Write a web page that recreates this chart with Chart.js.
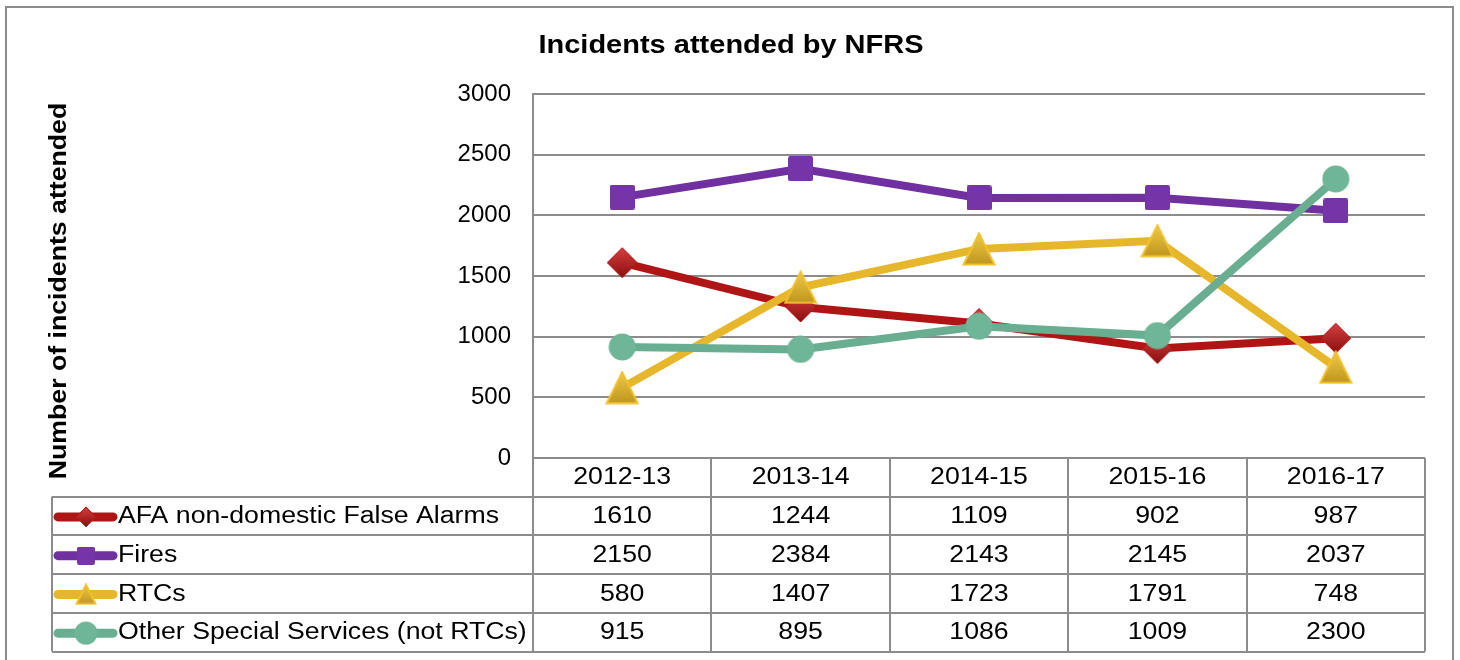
<!DOCTYPE html>
<html>
<head>
<meta charset="utf-8">
<script src="https://cdn.jsdelivr.net/npm/chart.js@4"></script>
<style>
  html, body { margin: 0; padding: 0; background: #fff; }
  canvas { display: block; }
</style>
</head>
<body>
<canvas id="incidentsChart" width="1460" height="660"></canvas>
<script>
const years = ['2012-13', '2013-14', '2014-15', '2015-16', '2016-17'];
const afaFalseAlarms = [1610, 1244, 1109, 902, 987];
const fires = [2150, 2384, 2143, 2145, 2037];
const rtcs = [580, 1407, 1723, 1791, 748];
const otherSpecial = [915, 895, 1086, 1009, 2300];
const seriesNames = ['AFA non-domestic False Alarms', 'Fires', 'RTCs', 'Other Special Services (not RTCs)'];
const yMin = 0, yMax = 3000, yStep = 500;

const FONT = '"Liberation Sans", Arial, sans-serif';
const GRID = '#8c8c8c';
// the source picture is a bit wider than tall, text looks stretched
const STRETCH = 1.16;

function makeMarker(shape, size) {
    const c = document.createElement('canvas');
    c.width = size;
    c.height = size;
    const g = c.getContext('2d');
    const s = size;
    if (shape === 'diamond') {
        const grad = g.createLinearGradient(0, 0, 0, s);
        grad.addColorStop(0, '#d94040');
        grad.addColorStop(1, '#880d0d');
        g.beginPath();
        g.moveTo(s / 2, 1); g.lineTo(s - 1, s / 2); g.lineTo(s / 2, s - 1); g.lineTo(1, s / 2);
        g.closePath();
        g.fillStyle = grad;
        g.fill();
        g.strokeStyle = '#b51717';
        g.lineWidth = 1;
        g.stroke();
    } else if (shape === 'square') {
        g.fillStyle = '#7535a8';
        g.beginPath();
        g.roundRect(0, 0, s, s, 2);
        g.fill();
    } else if (shape === 'triangle') {
        const grad = g.createLinearGradient(0, 0, 0, s);
        grad.addColorStop(0, '#f0cb4c');
        grad.addColorStop(1, '#bd941b');
        g.beginPath();
        g.moveTo(s / 2, 1.5); g.lineTo(s - 1.5, s - 1.5); g.lineTo(1.5, s - 1.5);
        g.closePath();
        g.fillStyle = grad;
        g.fill();
        g.strokeStyle = '#f2c12e';
        g.lineWidth = 2;
        g.stroke();
    } else {
        g.beginPath();
        g.arc(s / 2, s / 2, s / 2 - 0.5, 0, Math.PI * 2);
        g.fillStyle = '#6fb598';
        g.fill();
    }
    return c;
}

const lineColors = ['#b01515', '#7030a0', '#e6b72a', '#69ae91'];
const shapes = ['diamond', 'square', 'triangle', 'circle'];
const pointSizes = [32, 25, 34, 28];
const keySizes = [22, 18, 22, 24];
const pointMarkers = shapes.map((s, i) => makeMarker(s, pointSizes[i]));
const keyMarkers = shapes.map((s, i) => makeMarker(s, keySizes[i]));
const seriesValues = [afaFalseAlarms, fires, rtcs, otherSpecial];

function stretchedText(ctx, text, x, y, align) {
    ctx.save();
    ctx.translate(x, y);
    ctx.scale(STRETCH, 1);
    ctx.textAlign = align;
    ctx.fillText(text, 0, 0);
    ctx.restore();
}

const tablePlugin = {
    id: 'dataTable',
    beforeDraw(chart) {
        const ctx = chart.ctx;
        ctx.save();
        ctx.strokeStyle = GRID;
        ctx.lineWidth = 2;
        ctx.strokeRect(6, 7, 1447, 660);
        ctx.restore();
    },
    afterDraw(chart) {
        const ctx = chart.ctx;
        const area = chart.chartArea;
        const xs = chart.scales.x;
        const half = (xs.getPixelForValue(1) - xs.getPixelForValue(0)) / 2;
        const tableLeft = 52;
        const headTop = area.bottom;
        const rowTop = area.bottom + 38.5;
        const rowH = 38.75;
        const nRows = seriesValues.length;
        const tableBottom = rowTop + rowH * nRows;

        ctx.save();
        ctx.fillStyle = '#000';
        ctx.textBaseline = 'middle';

        // title
        ctx.font = 'bold 25px ' + FONT;
        stretchedText(ctx, 'Incidents attended by NFRS', 731, 46, 'center');

        // y axis title
        ctx.save();
        ctx.translate(60, 291);
        ctx.rotate(-Math.PI / 2);
        ctx.font = 'bold 23px ' + FONT;
        stretchedText(ctx, 'Number of incidents attended', 0, 0, 'center');
        ctx.restore();

        // grid of the table
        ctx.strokeStyle = GRID;
        ctx.lineWidth = 2;
        ctx.beginPath();
        for (let r = 0; r <= nRows; r++) {
            const y = Math.round(rowTop + r * rowH);
            ctx.moveTo(tableLeft, y);
            ctx.lineTo(area.right, y);
        }
        ctx.moveTo(tableLeft, rowTop);
        ctx.lineTo(tableLeft, tableBottom);
        ctx.moveTo(area.left, area.bottom);
        ctx.lineTo(area.left, tableBottom);
        years.forEach((_, i) => {
            const x = Math.round(xs.getPixelForValue(i) + half);
            ctx.moveTo(x, headTop);
            ctx.lineTo(x, tableBottom);
        });
        ctx.stroke();

        // header row
        ctx.font = '23px ' + FONT;
        years.forEach((yr, i) => {
            stretchedText(ctx, yr, xs.getPixelForValue(i), headTop + 20, 'center');
        });

        // series rows
        seriesValues.forEach((vals, r) => {
            const cy = rowTop + r * rowH + rowH / 2 + 1;
            ctx.strokeStyle = lineColors[r];
            ctx.lineWidth = 9;
            ctx.lineCap = 'round';
            ctx.beginPath();
            ctx.moveTo(58, cy);
            ctx.lineTo(113, cy);
            ctx.stroke();
            const m = keyMarkers[r];
            ctx.drawImage(m, 86 - m.width / 2, cy - m.height / 2);

            stretchedText(ctx, seriesNames[r], 118, cy, 'left');
            vals.forEach((v, i) => {
                stretchedText(ctx, String(v), xs.getPixelForValue(i), cy, 'center');
            });
        });
        ctx.restore();
    }
};

const ctx = document.getElementById('incidentsChart').getContext('2d');
const drawOrder = [4, 3, 2, 1];
new Chart(ctx, {
    type: 'line',
    data: {
        labels: years,
        datasets: seriesValues.map((vals, i) => ({
            label: seriesNames[i],
            data: vals,
            borderColor: lineColors[i],
            backgroundColor: lineColors[i],
            borderWidth: 8,
            pointStyle: pointMarkers[i],
            pointRadius: pointSizes[i] / 2,
            tension: 0,
            fill: false,
            order: drawOrder[i]
        }))
    },
    options: {
        responsive: false,
        animation: false,
        events: [],
        devicePixelRatio: 1,
        layout: {
            padding: { left: 0, top: 94, right: 35, bottom: 202 }
        },
        plugins: {
            legend: { display: false },
            title: { display: false },
            tooltip: { enabled: false }
        },
        scales: {
            x: {
                display: false,
                offset: true
            },
            y: {
                min: yMin,
                max: yMax,
                afterFit(scale) { scale.width = 533; },
                ticks: {
                    stepSize: yStep,
                    color: '#000',
                    padding: 22,
                    font: { family: FONT, size: 24 },
                    callback: v => String(v)
                },
                grid: {
                    color: GRID,
                    lineWidth: 2,
                    drawTicks: false
                },
                border: { color: GRID, width: 2 }
            }
        }
    },
    plugins: [tablePlugin]
});
</script>
</body>
</html>
